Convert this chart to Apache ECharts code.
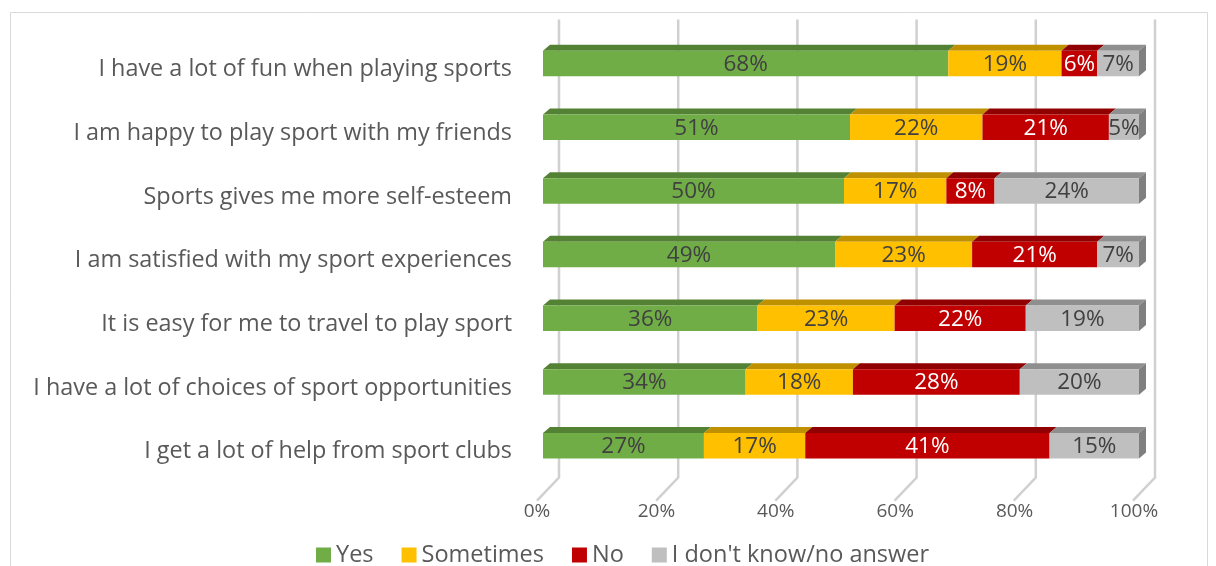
<!DOCTYPE html>
<html>
<head>
<meta charset="utf-8">
<script src="https://cdn.jsdelivr.net/npm/echarts@6/dist/echarts.min.js"></script>
<style>
html,body{margin:0;padding:0;background:#fff;}
#chart{width:1216px;height:566px;}
</style>
</head>
<body>
<div id="chart"></div>
<script>
const categories = [
  "I have a lot of fun when playing sports",
  "I am happy to play sport with my friends",
  "Sports gives me more self-esteem",
  "I am satisfied with my sport experiences",
  "It is easy for me to travel to play sport",
  "I have a lot of choices of sport opportunities",
  "I get a lot of help from sport clubs"
];
const seriesNames = ["Yes", "Sometimes", "No", "I don't know/no answer"];
const yes       = [68, 51, 50, 49, 36, 34, 27];
const sometimes = [19, 22, 17, 23, 23, 18, 17];
const no        = [6, 21, 8, 21, 22, 28, 41];
const dontKnow  = [7, 5, 24, 7, 19, 20, 15];
const tickValues = [0, 20, 40, 60, 80, 100];

const values = [yes, sometimes, no, dontKnow];
const frontColors = ["#70AD47", "#FFC000", "#C00000", "#BFBFBF"];
const topColors   = ["#548235", "#BF9000", "#900000", "#8F8F8F"];
const sideColor   = "#7F7F7F";
const labelColors = ["#404040", "#404040", "#FFFFFF", "#404040"];
const FONT = "'Open Sans', 'Liberation Sans', sans-serif";
const DX = 7, DY = 6;

// 100% stacked: normalise each row
const totals = categories.map((c, i) => values.reduce((s, arr) => s + arr[i], 0));
function seriesData(k) {
  return categories.map((c, i) => {
    let before = 0;
    for (let j = 0; j < k; j++) before += values[j][i];
    const s = before / totals[i] * 100;
    const e = (before + values[k][i]) / totals[i] * 100;
    return [i, s, e, values[k][i]];
  });
}

function barRenderer(k) {
  const isLast = k === values.length - 1;
  return function (params, api) {
    const cat = api.value(0);
    const p0 = api.coord([api.value(1), cat]);
    const p1 = api.coord([api.value(2), cat]);
    const h = api.size([0, 1])[1] * 0.4;
    const x0 = p0[0], x1 = p1[0];
    const yT = p0[1] - h / 2 + 1, yB = p0[1] + h / 2 + 1;
    const children = [
      { type: 'polygon', shape: { points: [[x0, yT], [x0 + DX, yT - DY], [x1 + DX, yT - DY], [x1, yT]] },
        style: { fill: topColors[k] } },
      { type: 'rect', shape: { x: x0, y: yT, width: x1 - x0, height: h },
        style: { fill: frontColors[k] } }
    ];
    if (isLast) {
      children.push({ type: 'polygon', shape: { points: [[x1, yT], [x1 + DX, yT - DY], [x1 + DX, yB - DY], [x1, yB]] },
        style: { fill: sideColor } });
    }
    children.push({ type: 'text', x: (x0 + x1) / 2, y: (yT + yB) / 2 + 1,
      style: { text: api.value(3) + '%', fill: labelColors[k], font: '22.5px ' + FONT,
               align: 'center', verticalAlign: 'middle' } });
    return { type: 'group', children: children };
  };
}

const series = [];
series.push({
  type: 'custom', xAxisIndex: 0, yAxisIndex: 0, silent: true, z: 1,
  data: tickValues.map(v => [v]),
  encode: { x: 0 },
  renderItem: function (params, api) {
    const x = api.coord([api.value(0), 0])[0];
    const cs = params.coordSys;
    const bottom = cs.y + cs.height;
    return { type: 'polyline',
      shape: { points: [[x + 16, cs.y - 11], [x + 16, bottom + 1], [x - 6, bottom + 24]] },
      style: { stroke: '#D0D0D0', lineWidth: 2.5, fill: null } };
  }
});
seriesNames.forEach((name, k) => {
  series.push({
    name: name, type: 'custom', xAxisIndex: 0, yAxisIndex: 0, z: 2,
    itemStyle: { color: frontColors[k] },
    data: seriesData(k),
    encode: { x: [1, 2], y: 0 },
    renderItem: barRenderer(k)
  });
});

const chart = echarts.init(document.getElementById('chart'));
chart.setOption({
  animation: false,
  backgroundColor: '#fff',
  graphic: [{ type: 'rect', shape: { x: 10.5, y: 12.5, width: 1197, height: 600 },
              style: { fill: null, stroke: '#D9D9D9', lineWidth: 1 }, silent: true }],
  grid: [
    { left: 543, top: 30.6, width: 596, height: 446 },
    { left: 537, top: 30, width: 597, height: 471 }
  ],
  xAxis: [
    { gridIndex: 0, type: 'value', min: 0, max: 100, interval: 20,
      axisLine: { show: false }, axisTick: { show: false }, axisLabel: { show: false }, splitLine: { show: false } },
    { gridIndex: 1, type: 'value', min: 0, max: 100, interval: 20,
      axisLine: { show: false }, axisTick: { show: false }, splitLine: { show: false },
      axisLabel: { margin: 1, formatter: '{value}%', color: '#595959', fontSize: 19, fontFamily: FONT } }
  ],
  yAxis: [
    { gridIndex: 0, type: 'category', data: categories, inverse: true,
      axisLine: { show: false }, axisTick: { show: false }, splitLine: { show: false },
      axisLabel: { margin: 31, color: '#595959', fontSize: 23.4, fontFamily: FONT,
                   verticalAlign: 'top', lineHeight: 14 } },
    { gridIndex: 1, type: 'value', show: false }
  ],
  legend: {
    data: seriesNames, left: 311, top: 538, icon: 'rect',
    itemWidth: 15, itemHeight: 15, itemGap: 28,
    textStyle: { color: '#595959', fontSize: 23.5, fontFamily: FONT }
  },
  series: series
});
</script>
</body>
</html>
